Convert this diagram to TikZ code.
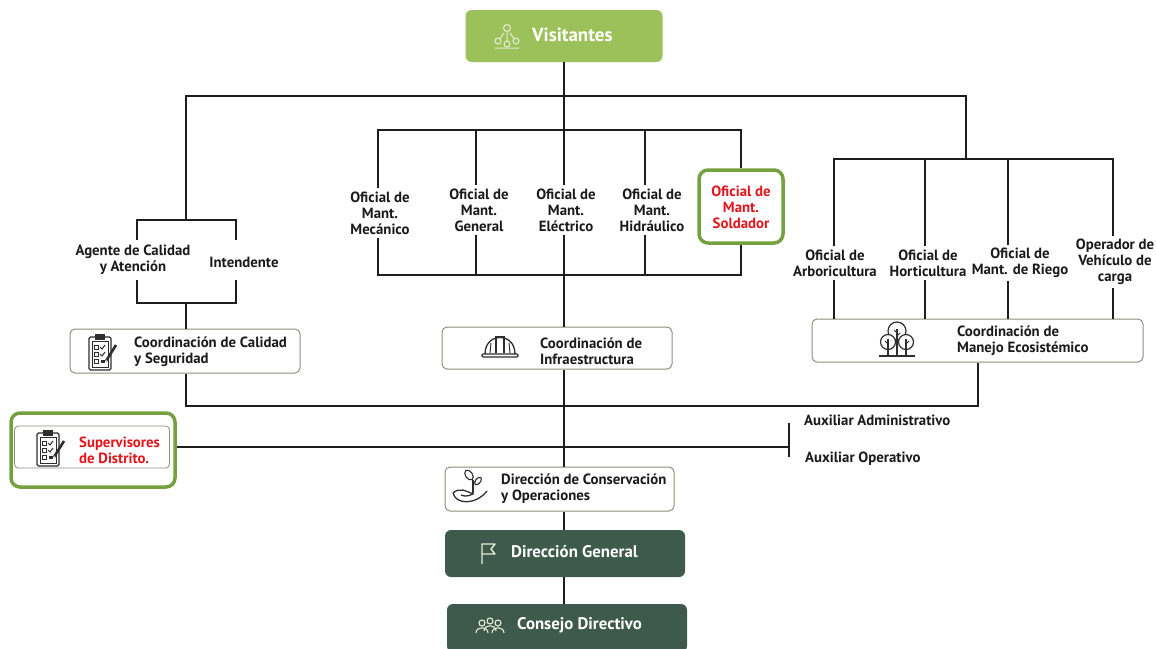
\documentclass[tikz,border=0pt]{standalone}
\usepackage{fontspec}
\setmainfont{PT Sans}
\usetikzlibrary{calc}
\definecolor{wirec}{HTML}{1E1E1E}
\definecolor{vgreen}{HTML}{9DC15A}
\definecolor{framec}{HTML}{74A13F}
\definecolor{darkc}{HTML}{3E5A4C}
\definecolor{tred}{HTML}{E2141C}
\definecolor{bordc}{HTML}{8E8E7C}
\definecolor{txtc}{HTML}{1A1A1A}
\definecolor{iconc}{HTML}{2E2E2E}
\definecolor{lightic}{HTML}{E6EDD8}
\tikzset{
  wire/.style={draw=wirec, line width=1.6},
  wbox/.style={draw=bordc, line width=1, fill=white, rounded corners=5, inner sep=0},
  dbox/.style={fill=darkc, rounded corners=6, inner sep=0},
  lbl/.style={font=\fontsize{14.8}{16}\selectfont\bfseries, text=txtc, align=center, inner xsep=0, inner ysep=3},
  btxt/.style={font=\fontsize{14.8}{16}\selectfont\bfseries, text=txtc, align=left, inner sep=0, anchor=west},
  wtxt/.style={font=\fontsize{16.8}{18}\selectfont\bfseries, text=white, inner sep=0, anchor=west},
  clipicon/.pic={
    \draw[iconc, line width=1.4, rounded corners=1.5] (-13,-15) rectangle (9,18);
    \draw[iconc, line width=0.9] (-10,-11) rectangle (6,15);
    \fill[iconc] (-7,-18) rectangle (3,-12);
    \draw[iconc, line width=1] (-8,-7) rectangle (-4,-3) (-8,0) rectangle (-4,4) (-8,7) rectangle (-4,11);
    \draw[iconc, line width=1] (-2,-5) -- (0,-3) -- (3,-7) (-2,2) -- (0,4) -- (3,0);
    \fill[iconc] (-1,8) rectangle (3,11);
    \draw[iconc, line width=2.6] (4,9) -- (14,-7);
    \fill[white] (4.5,8.2) circle[radius=0.6pt];
  },
  hardhat/.pic={
    \draw[iconc, line width=1.3] (-15,7) .. controls (-15,-15) and (15,-15) .. (15,7);
    \draw[iconc, line width=1.3, rounded corners=1] (-18,7) rectangle (18,10);
    \draw[iconc, line width=1.2] (-4,6) -- (-4,-10) -- (4,-10) -- (4,6);
    \draw[iconc, line width=1] (-10,6) -- (-9,-4) (10,6) -- (9,-4);
  },
  treesicon/.pic={
    \draw[iconc, line width=1.2, fill=white] (0,-8) circle[radius=9pt];
    \draw[iconc, line width=1.2, fill=white] (-9,3) circle[radius=7.5pt];
    \draw[iconc, line width=1.2, fill=white] (9,3) circle[radius=7.5pt];
    \draw[iconc, line width=1.2] (0,-10) -- (0,17) (-9,0) -- (-9,17) (9,0) -- (9,17);
    \draw[iconc, line width=1] (0,-6) -- (-3,-9) (0,-3) -- (3,-6) (-9,5) -- (-12,2) (9,5) -- (12,2);
    \draw[iconc, line width=1.4] (-18,17) -- (18,17);
  },
  handplant/.pic={
    \draw[iconc, line width=1.3] (-17,4) .. controls (-14,16) and (6,16) .. (17,2);
    \draw[iconc, line width=1.3] (-17,4) .. controls (-10,-2) and (-4,2) .. (3,5) .. controls (-3,8) and (-7,7) .. (-9,6);
    \draw[iconc, line width=1.2] (3,4) -- (3,-9);
    \draw[iconc, line width=1.1, rotate around={35:(-1,-14)}] (-1,-14) ellipse[x radius=3.5pt, y radius=5.5pt];
    \draw[iconc, line width=1.1, rotate around={-40:(8,-8)}] (8,-8) ellipse[x radius=2.5pt, y radius=4.5pt];
  },
  flagicon/.pic={
    \draw[lightic, line width=1.4, line join=round] (-6,11) -- (-6,-9) -- (7,-9) -- (3,-4) -- (7,1) -- (-6,1);
  },
  peopleicon/.pic={
    \draw[lightic, line width=1.1] (-8,-3) circle[radius=3pt] (0,-5) circle[radius=3pt] (8,-3) circle[radius=3pt];
    \draw[lightic, line width=1.1] (-14,7) .. controls (-14,0) and (-2,0) .. (-2,7);
    \draw[lightic, line width=1.1] (-6,5) .. controls (-6,-2) and (6,-2) .. (6,5);
    \draw[lightic, line width=1.1] (2,7) .. controls (2,0) and (14,0) .. (14,7);
  },
  neticon/.pic={
    \draw[lightic, line width=1] (0,-8) circle[radius=3.5pt] (-9,5) circle[radius=3pt] (0,8) circle[radius=3pt] (9,5) circle[radius=3pt];
    \draw[lightic, line width=1] (0,-4.5) -- (0,5) (-3,-3) -- (-7,2.5) (3,-3) -- (7,2.5) (-12,12) -- (12,12);
  }
}
\begin{document}
\begin{tikzpicture}[x=1pt, y=-1pt]
\useasboundingbox (0,0) rectangle (1156,648);
\clip (0,0) rectangle (1156,648);
\fill[white] (0,0) rectangle (1156,648);

% ---- boxes ----
\node[fill=vgreen, rounded corners=6, minimum width=197, minimum height=52, inner sep=0] (vis) at (564,36) {};
\pic at (507,36) {neticon};
\node[wtxt, font=\fontsize{19}{20}\selectfont\bfseries] (vist) at (532,35) {Visitantes};

\node[wbox, minimum width=230, minimum height=44] (cal) at (185,351) {};
\pic at (102,352) {clipicon};
\node[btxt] (calt) at (134,352) {Coordinación de Calidad\\y Seguridad};

\node[wbox, minimum width=230, minimum height=42] (inf) at (557,348) {};
\pic at (500,347) {hardhat};
\node[btxt] (inft) at (540,351) {Coordinación de\\Infraestructura};

\node[wbox, minimum width=331, minimum height=43] (man) at (977.5,340.5) {};
\pic at (897,339) {treesicon};
\node[btxt] (mant) at (957,341) {Coordinación de\\Manejo Ecosistémico};

\node[draw=framec, line width=3.5, fill=white, rounded corners=9, minimum width=164, minimum height=74, inner sep=0] (sup) at (93,450) {};
\node[draw=bordc, line width=0.8, rounded corners=4, minimum width=155, minimum height=42, inner sep=0] (supin) at (92,447) {};
\pic at (50,448) {clipicon};
\node[btxt, text=tred] (supt) at (79,450) {Supervisores\\de Distrito.};

\node[wbox, minimum width=229, minimum height=44] (dcon) at (559.5,489) {};
\pic at (470,489) {handplant};
\node[btxt] (dcont) at (501,489) {Dirección de Conservación\\y Operaciones};

\node[dbox, minimum width=240, minimum height=47] (dg) at (565,553.5) {};
\pic at (488,553) {flagicon};
\node[wtxt] (dgt) at (511,552) {Dirección General};

\node[dbox, minimum width=240, minimum height=48] (cd) at (567,628) {};
\pic at (490,626) {peopleicon};
\node[wtxt] (cdt) at (517,625) {Consejo Directivo};

\node[draw=framec, line width=3.5, fill=white, rounded corners=9, minimum width=84, minimum height=73, inner sep=0] (sol) at (741,206.5) {};

% ---- labels ----
\node[lbl] (mec) at (380,213) {Oficial de\\Mant.\\Mecánico};
\node[lbl] (gen) at (479,210) {Oficial de\\Mant.\\General};
\node[lbl] (ele) at (566,210) {Oficial de\\Mant.\\Eléctrico};
\node[lbl] (hid) at (652,210) {Oficial de\\Mant.\\Hidráulico};
\node[lbl, text=tred] (solt) at (741,207) {Oficial de\\Mant.\\Soldador};
\node[lbl, inner ysep=5] (ag) at (133,260) {Agente de Calidad\\y Atención};
\node[lbl] (int) at (244,262) {Intendente};
\node[lbl] (arb) at (835,263) {Oficial de\\Arboricultura};
\node[lbl] (hor) at (928,263) {Oficial de\\Horticultura};
\node[lbl] (rie) at (1020,263) {Oficial de\\Mant. de Riego};
\node[lbl] (ope) at (1115,262) {Operador de\\Vehículo de\\carga};
\node[btxt] (aux1) at (804,420) {Auxiliar Administrativo};
\node[btxt] (aux2) at (805,459) {Auxiliar Operativo};

% ---- junction coordinates ----
\coordinate (bL) at (186,96);
\coordinate (bR) at (966,96);
\coordinate (a0) at (186,220);
\coordinate (a1) at (137,220);
\coordinate (a2) at (236,220);
\coordinate (b0) at (186,303);
\coordinate (b1) at (137,303);
\coordinate (b2) at (236,303);
\coordinate (m1) at (378,130);
\coordinate (m2) at (476,130);
\coordinate (m3) at (564,130);
\coordinate (m4) at (645,130);
\coordinate (m5) at (741,130);
\coordinate (n1) at (378,275);
\coordinate (n2) at (476,275);
\coordinate (n3) at (564,275);
\coordinate (n4) at (645,275);
\coordinate (n5) at (741,275);
\coordinate (r0) at (966,159);
\coordinate (r1) at (834,159);
\coordinate (r2) at (925,159);
\coordinate (r3) at (1008,159);
\coordinate (r4) at (1113,159);
\coordinate (c0) at (186,406);
\coordinate (c1) at (978,406);
\coordinate (s1) at (789,447);
\coordinate (s2) at (789,423);
\coordinate (s3) at (789,457);

% ---- connectors ----
\draw[wire] (a0) -- (bL) -- (bR) -- (r0);
\draw[wire] (a1 |- ag.north) -- (a1) -- (a2) -- (a2 |- ag.north);
\draw[wire] (b1 |- ag.south) -- (b1) -- (b2) -- (b2 |- ag.south);
\draw[wire] (b0) -- (b0 |- cal.north);

\draw[wire] (vis.south) -- (m3 |- ele.north);
\draw[wire] (m1 |- mec.north) -- (m1) -- (m5) -- (sol.north);
\draw[wire] (m2) -- (m2 |- gen.north);
\draw[wire] (m4) -- (m4 |- hid.north);
\draw[wire] (n1 |- mec.south) -- (n1) -- (n5) -- (sol.south);
\draw[wire] (n2 |- gen.south) -- (n2);
\draw[wire] (n4 |- hid.south) -- (n4);
\draw[wire] (n3 |- ele.south) -- (n3 |- inf.north);
\draw[wire] (n3 |- inf.south) -- (n3 |- dcon.north);
\draw[wire] (n3 |- dcon.south) -- (n3 |- dg.north);
\draw[wire] (n3 |- dg.south) -- (n3 |- cd.north);

\draw[wire] (r1 |- arb.north) -- (r1) -- (r4) -- (r4 |- ope.north);
\draw[wire] (r2) -- (r2 |- hor.north);
\draw[wire] (r3) -- (r3 |- rie.north);
\draw[wire] (r1 |- arb.south) -- (r1 |- man.north);
\draw[wire] (r2 |- hor.south) -- (r2 |- man.north);
\draw[wire] (r3 |- rie.south) -- (r3 |- man.north);
\draw[wire] (r4 |- ope.south) -- (r4 |- man.north);

\draw[wire] (b0 |- cal.south) -- (c0) -- (c1) -- (c1 |- man.south);
\draw[wire] (s1 -| sup.east) -- (s1);
\draw[wire] (s2) -- (s3);
\end{tikzpicture}
\end{document}
